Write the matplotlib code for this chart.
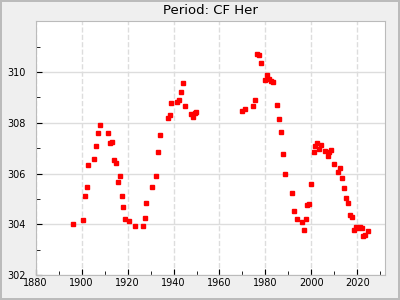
import matplotlib
matplotlib.use("Agg")
import matplotlib.pyplot as plt
from matplotlib.ticker import MultipleLocator

# O-C style data
years = [1896.4, 1900.7, 1901.6, 1902.5, 1902.9, 1905.5, 1906.4, 1907.3, 1908.1,
         1911.6, 1912.5, 1913.3, 1914.2, 1915.1, 1916.8, 1916.0, 1917.7, 1918.1,
         1919.0, 1920.7, 1923.4, 1926.8, 1927.7, 1928.1, 1930.8, 1932.5, 1933.4,
         1934.2, 1937.7, 1938.6, 1939.0, 1941.6, 1942.5, 1943.4, 1944.3, 1945.1,
         1947.7, 1948.6, 1949.4, 1949.8,
         1969.9, 1971.2, 1974.7, 1975.6, 1976.5, 1977.3, 1978.2, 1980.8, 1980.0,
         1981.7, 1982.6, 1983.4, 1985.2, 1986.1, 1986.9, 1987.8, 1988.7, 1991.7,
         1992.6, 1993.5, 1996.1, 1996.9, 1997.8, 1998.2, 1999.1, 2000.0, 2000.9,
         2001.7, 2002.6, 2003.5, 2004.3, 2006.1, 2007.0, 2007.8, 2008.7, 2009.6,
         2011.7, 2012.6, 2013.5, 2014.3, 2015.2, 2016.1, 2016.9, 2017.8, 2018.7,
         2019.6, 2020.4, 2021.3, 2022.1, 2024.4, 2023.5, 2022.6]
period = [304.00, 304.16, 305.10, 305.46, 306.33, 306.57, 307.08, 307.60, 307.90,
          307.60, 307.20, 307.24, 306.53, 306.40, 305.90, 305.66, 305.10, 304.67,
          304.20, 304.12, 303.92, 303.92, 304.24, 304.83, 305.46, 305.90, 306.84,
          307.52, 308.19, 308.30, 308.78, 308.82, 308.90, 309.21, 309.57, 308.66,
          308.34, 308.23, 308.38, 308.42,
          308.46, 308.54, 308.66, 308.90, 310.71, 310.67, 310.35, 309.88, 309.69,
          309.73, 309.65, 309.61, 308.70, 308.15, 307.63, 306.77, 305.98, 305.23,
          304.51, 304.20, 304.08, 303.76, 304.20, 304.75, 304.79, 305.58, 306.84,
          307.08, 307.20, 306.96, 307.12, 306.88, 306.69, 306.84, 306.92, 306.37,
          306.05, 306.21, 305.82, 305.42, 305.03, 304.83, 304.36, 304.28, 303.76,
          303.88, 303.84, 303.88, 303.84, 303.73, 303.57, 303.53]

fig = plt.figure(figsize=(4, 3), dpi=100, facecolor='#efefef',
                 edgecolor='#bbbbbb', linewidth=1.5)
ax = fig.add_axes([0.089, 0.0833, 0.8735, 0.8457])

ax.plot(years, period, 's', color='red', markersize=3.2, linestyle='none', zorder=3)

ax.set_xlim(1880, 2032)
ax.set_ylim(302, 312)
ax.set_xticks(range(1880, 2021, 20))
ax.set_yticks(range(302, 311, 2))
ax.xaxis.set_minor_locator(MultipleLocator(10))
ax.yaxis.set_minor_locator(MultipleLocator(1))

ax.grid(axis='x', which='major', color='#dddddd', linestyle='--', linewidth=1)
ax.grid(axis='y', which='major', color='#dddddd', linestyle='-', linewidth=1)
ax.set_axisbelow(True)

ax.tick_params(which='both', direction='in', labelsize=7, color='black')
ax.tick_params(which='major', length=4)
ax.tick_params(which='minor', length=3)
ax.tick_params(axis='y', pad=7)
ax.tick_params(axis='x', pad=2)
for s in ax.spines.values():
    s.set_color('#bbbbbb')

ax.set_title('Period: CF Her', fontsize=9.5, pad=5)

fig.savefig('out.png', dpi=100, facecolor=fig.get_facecolor(), edgecolor=fig.get_edgecolor())
